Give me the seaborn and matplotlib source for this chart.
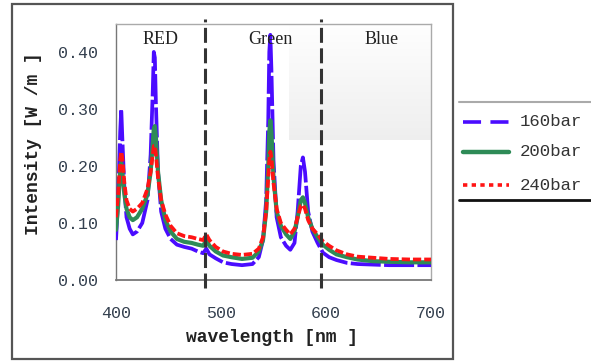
import numpy as np
import pandas as pd
import matplotlib
matplotlib.use("Agg")
import matplotlib.pyplot as plt
import seaborn as sns
from matplotlib.lines import Line2D
from matplotlib.patches import Rectangle

wavelength = [400, 402, 404, 405, 406, 408, 410, 413, 416, 420, 425, 430, 433, 435, 436,
              437, 438, 440, 443, 447, 452, 458, 465, 472, 478, 483, 486, 489, 495, 502,
              510, 520, 530, 536, 540, 543, 545, 546, 547, 548, 550, 553, 557, 562, 566,
              570, 573, 576, 578, 580, 583, 587, 592, 597, 603, 610, 620, 630, 645, 660,
              680, 700]

bar160 = [0.07, 0.14, 0.26, 0.30, 0.25, 0.16, 0.11, 0.09, 0.08, 0.085, 0.10, 0.14, 0.22, 0.33, 0.40,
          0.39, 0.31, 0.19, 0.12, 0.09, 0.072, 0.062, 0.058, 0.055, 0.05, 0.047, 0.055, 0.045, 0.038, 0.031,
          0.028, 0.026, 0.028, 0.04, 0.07, 0.14, 0.28, 0.40, 0.43, 0.37, 0.21, 0.11, 0.075, 0.06, 0.053,
          0.065, 0.12, 0.20, 0.215, 0.19, 0.12, 0.085, 0.065, 0.048, 0.04, 0.035, 0.03, 0.028, 0.027, 0.026,
          0.026, 0.026]

bar200 = [0.088, 0.13, 0.19, 0.205, 0.19, 0.15, 0.125, 0.11, 0.105, 0.11, 0.125, 0.15, 0.19, 0.24, 0.265,
          0.27, 0.25, 0.19, 0.14, 0.105, 0.085, 0.072, 0.067, 0.065, 0.062, 0.06, 0.07, 0.06, 0.05, 0.043,
          0.04, 0.037, 0.039, 0.05, 0.07, 0.12, 0.20, 0.26, 0.28, 0.26, 0.18, 0.12, 0.095, 0.08, 0.072,
          0.085, 0.11, 0.14, 0.145, 0.135, 0.11, 0.09, 0.075, 0.062, 0.053, 0.045, 0.04, 0.036, 0.033, 0.032,
          0.031, 0.031]

bar240 = [0.11, 0.15, 0.21, 0.225, 0.215, 0.17, 0.14, 0.125, 0.12, 0.125, 0.135, 0.16, 0.19, 0.22, 0.235,
          0.235, 0.22, 0.18, 0.14, 0.115, 0.095, 0.082, 0.077, 0.075, 0.072, 0.07, 0.08, 0.07, 0.058, 0.05,
          0.046, 0.044, 0.046, 0.055, 0.075, 0.12, 0.18, 0.21, 0.225, 0.215, 0.17, 0.125, 0.10, 0.088, 0.08,
          0.09, 0.11, 0.13, 0.132, 0.125, 0.105, 0.09, 0.08, 0.068, 0.06, 0.052, 0.045, 0.041, 0.039, 0.037,
          0.036, 0.036]

series_names = ["160bar", "200bar", "240bar"]
region_labels = ["RED", "Green", "Blue"]
region_label_x = [442, 547, 653]
boundaries = [485, 595]
x_ticks = [400, 500, 600, 700]
y_ticks = [0.00, 0.10, 0.20, 0.30, 0.40]
y_tick_labels = ["0.00", "0.10", "0.20", "0.30", "0.40"]

sns.set_style("white")
plt.rcParams["font.family"] = ["DejaVu Sans"]

W, H = 591, 361
fig = plt.figure(figsize=(W / 100, H / 100), dpi=100)
ax = fig.add_axes([116 / W, 1 - 280 / H, (431 - 116) / W, (280 - 24) / H])

colors = ["#4a0cff", "#2e8b57", "#ff1414"]
styles = [(0, (8, 0.9)), "-", (0, (2.2, 0.8))]
widths = [2.7, 3.0, 2.7]
for name, vals, c, ls, lw, z in zip(series_names, [bar160, bar200, bar240], colors, styles, widths, [3, 4, 5]):
    df = pd.DataFrame({"wavelength": wavelength, "intensity": vals})
    sns.lineplot(data=df, x="wavelength", y="intensity", ax=ax, color=c,
                 linestyle=ls, linewidth=lw, zorder=z, legend=False)

# gradient shaded box
grad = np.linspace(0, 1, 50)[:, None]
top = np.array([0.998, 0.998, 0.998])
bot = np.array([0.935, 0.935, 0.935])
img = (top[None, None, :] * (1 - grad[:, :, None]) + bot[None, None, :] * grad[:, :, None])
ax.imshow(img, extent=[565, 700, 0.245, 0.449], origin="upper", aspect="auto", zorder=0.5)
ax.set_xlim(400, 700)
ax.set_ylim(0, 0.449)

for b in boundaries:
    ax.axvline(b, ymin=-0.03, ymax=1.02, color="#333333", lw=2.2,
               linestyle=(0, (4.9, 1.8)), clip_on=False, zorder=6)

for lab, lx in zip(region_labels, region_label_x):
    ax.text(lx, 0.421, lab, ha="center", va="center", fontsize=13,
            family="Liberation Serif", color="#222222", zorder=7)

ax.set_xticks(x_ticks)
ax.set_xticklabels([str(t) for t in x_ticks])
ax.set_yticks(y_ticks)
ax.set_yticklabels(y_tick_labels)
ax.tick_params(axis="both", direction="inout", length=14, width=1.2, colors="#444444",
               labelcolor="#34404f", labelsize=12)
ax.tick_params(axis="x", pad=12)
ax.tick_params(axis="y", pad=6)
for lab in ax.get_xticklabels() + ax.get_yticklabels():
    lab.set_family("Liberation Mono")

for side in ["top", "right"]:
    ax.spines[side].set_color("#aaaaaa")
    ax.spines[side].set_linewidth(1.0)
ax.spines["left"].set_color("#777777")
ax.spines["left"].set_linewidth(1.0)
ax.spines["bottom"].set_color("#777777")
ax.spines["bottom"].set_linewidth(1.3)
ax.set_xlabel("")
ax.set_ylabel("")

fig.text(272 / W, 1 - 338 / H, "wavelength [nm ]", ha="center", va="center",
         fontsize=13, fontweight="bold", family="Liberation Mono", color="#222222")
fig.text(34 / W, 1 - 144 / H, "Intensity [W /m ]", ha="center", va="center", rotation=90,
         fontsize=13, fontweight="bold", family="Liberation Mono", color="#222222")

# outer frame
fig.add_artist(Rectangle((12 / W, 1 - 359 / H), (453 - 12) / W, (359 - 4) / H,
                         transform=fig.transFigure, fill=False, edgecolor="#555555", lw=1.6))

# legend (drawn outside the frame)
fig.add_artist(Line2D([459 / W, 1.0], [1 - 102 / H] * 2, transform=fig.transFigure,
                      color="#aaaaaa", lw=1.5))
fig.add_artist(Line2D([459 / W, 1.0], [1 - 200 / H] * 2, transform=fig.transFigure,
                      color="#111111", lw=2.0))
legend_y = [122, 152, 185]
legend_styles = [(0, (5.0, 2.6)), "-", (0, (1.2, 1.2))]
for name, c, ls, ly in zip(series_names, colors, legend_styles, legend_y):
    fig.add_artist(Line2D([463 / W, 509 / W], [1 - ly / H] * 2, transform=fig.transFigure,
                          color=c, lw=2.6 if ls != "-" else 3.2, linestyle=ls))
    fig.text(520 / W, 1 - ly / H, name, ha="left", va="center", fontsize=12.5,
             family="Liberation Mono", color="#333333")

fig.savefig("out.png", dpi=100)
